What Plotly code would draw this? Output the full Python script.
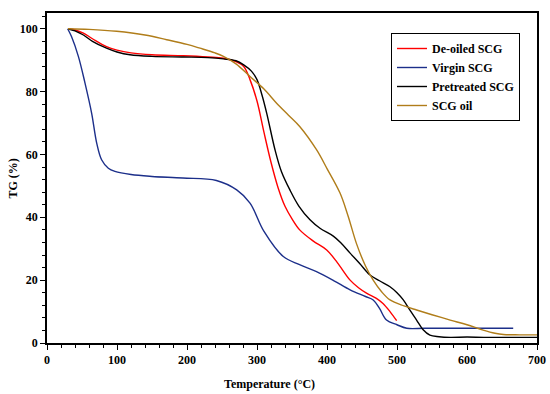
import plotly.graph_objects as go

# Virgin SCG
virgin_T = [29.5, 35, 44.8, 54.3, 63.8, 71, 78, 87.6, 97, 120, 150, 194, 242, 271, 290, 310, 337.6, 360, 385, 410, 433, 455, 466, 475, 485, 500, 514, 540, 600, 666]
virgin_TG = [100, 97.5, 91.2, 82.7, 73.1, 63.6, 58.3, 55.6, 54.6, 53.6, 53.0, 52.5, 51.7, 48.7, 44.5, 35.5, 27.5, 25.0, 22.7, 19.8, 16.9, 14.8, 13.7, 11.0, 7.3, 5.8, 4.7, 4.7, 4.7, 4.7]

# De-oiled SCG
deoiled_T = [30, 40, 52, 65, 85, 100, 120, 150, 195, 230, 252, 270, 281, 290, 300, 310, 320, 330, 340, 350, 361, 380, 399.6, 415, 433, 445, 457, 470, 480, 490, 499.5]
deoiled_TG = [100, 99.6, 98.6, 96.8, 94.3, 93.2, 92.3, 91.7, 91.4, 91.0, 90.6, 89.5, 88.0, 83.8, 77.0, 67.0, 57.5, 49.5, 43.5, 39.5, 36.0, 32.5, 29.6, 25.5, 20.0, 17.6, 15.8, 14.3, 12.6, 10.0, 7.1]

# Pretreated SCG
pre_T = [30, 40, 52, 65, 85, 100, 118.6, 150, 195, 230, 252, 270, 281, 292, 300, 307, 314, 325.7, 335, 347, 360, 375.7, 390, 409, 420, 433, 447, 461, 475, 490, 500, 509, 518, 528, 537, 547, 560, 576, 600, 624, 660, 700]
pre_TG = [100, 99.3, 98.0, 96.0, 93.8, 92.6, 91.7, 91.2, 91.0, 90.8, 90.4, 89.8, 88.5, 86.5, 83.8, 79.0, 73.0, 61.5, 54.5, 48.7, 43.5, 39.2, 36.5, 34.0, 31.8, 28.6, 25.2, 21.7, 19.8, 17.9, 16.0, 13.7, 10.6, 7.3, 4.3, 2.5, 2.0, 1.8, 1.9, 1.8, 1.8, 1.8]

# SCG oil
oil_T = [30, 60, 99.5, 140, 171, 200, 218.6, 240, 252, 270, 290, 310, 328, 345, 361, 385, 400, 418.6, 430, 442, 455, 466, 478, 490, 510, 528, 550, 576, 600, 623, 640, 652, 675, 700]
oil_TG = [100, 99.8, 99.2, 98.0, 96.5, 95.0, 93.8, 92.3, 91.2, 88.8, 84.8, 80.8, 76.3, 72.5, 68.9, 61.5, 55.5, 47.7, 40.5, 31.7, 24.5, 20.0, 16.3, 13.7, 11.8, 10.5, 9.0, 7.3, 5.8, 4.1, 3.1, 2.7, 2.6, 2.6]

series = [
    ("De-oiled SCG", deoiled_T, deoiled_TG, "#ff0000"),
    ("Virgin SCG", virgin_T, virgin_TG, "#1c2f8a"),
    ("Pretreated SCG", pre_T, pre_TG, "#000000"),
    ("SCG oil", oil_T, oil_TG, "#b07d1a"),
]

x_ticks = [0, 100, 200, 300, 400, 500, 600, 700]
y_ticks = [0, 20, 40, 60, 80, 100]

FONT = "Liberation Serif, Times New Roman, serif"

# target plot box in page pixels: x 47..537, y 13..343 (body margin removed below)
W, H = 550, 394
PL, PR, PT, PB = 47, 537, 13, 343
ML, MT, MR, MB = PL, PT, W - PR, H - PB
PW, PH = PR - PL, PB - PT


def px_x(page_x):
    return (page_x - PL) / PW


def px_y(page_y):
    return (PB - page_y) / PH


fig = go.Figure()
for name, t, tg, col in series:
    fig.add_trace(go.Scatter(x=t, y=tg, name=name, mode="lines",
                             line=dict(color=col, width=1.4, shape="spline", smoothing=1.0)))

axis_common = dict(showgrid=False, zeroline=False, showline=True, linecolor="black", linewidth=1.5,
                   mirror=True, ticks="outside", ticklen=5, tickcolor="black", automargin=False,
                   tickfont=dict(family=FONT, size=12, weight="bold", color="black"))

fig.update_layout(
    width=W, height=H,
    margin=dict(l=ML, r=MR, t=MT, b=MB, autoexpand=False),
    paper_bgcolor="white", plot_bgcolor="white",
    font=dict(family=FONT, size=12, color="black", weight="bold"),
    legend=dict(x=px_x(391), y=px_y(33), xanchor="left", yanchor="top",
                bordercolor="black", borderwidth=1, bgcolor="white",
                font=dict(family=FONT, size=12, weight="bold"),
                tracegroupgap=0, itemwidth=30),
    xaxis=dict(range=[0, 700], tickvals=x_ticks, ticktext=[str(v) for v in x_ticks],
               minor=dict(dtick=20, ticks="outside", ticklen=3, tickcolor="black"),
               **axis_common),
    yaxis=dict(range=[0, 105], tickvals=y_ticks, ticktext=[str(v) for v in y_ticks],
               minor=dict(dtick=4, ticks="outside", ticklen=3, tickcolor="black"),
               **axis_common),
    annotations=[
        dict(text="Temperature (°C)", xref="paper", yref="paper",
             x=px_x(269), y=px_y(384), xanchor="center", yanchor="middle", showarrow=False,
             font=dict(family=FONT, size=12, weight="bold", color="black")),
        dict(text="TG (%)", xref="paper", yref="paper",
             x=px_x(12.5), y=px_y(179), xanchor="center", yanchor="middle",
             showarrow=False, textangle=-90,
             font=dict(family=FONT, size=12, weight="bold", color="black")),
    ],
)

fig.write_html("out.html", config={"displayModeBar": False},
               post_script="document.body.style.margin='0';document.body.style.overflow='hidden';")
